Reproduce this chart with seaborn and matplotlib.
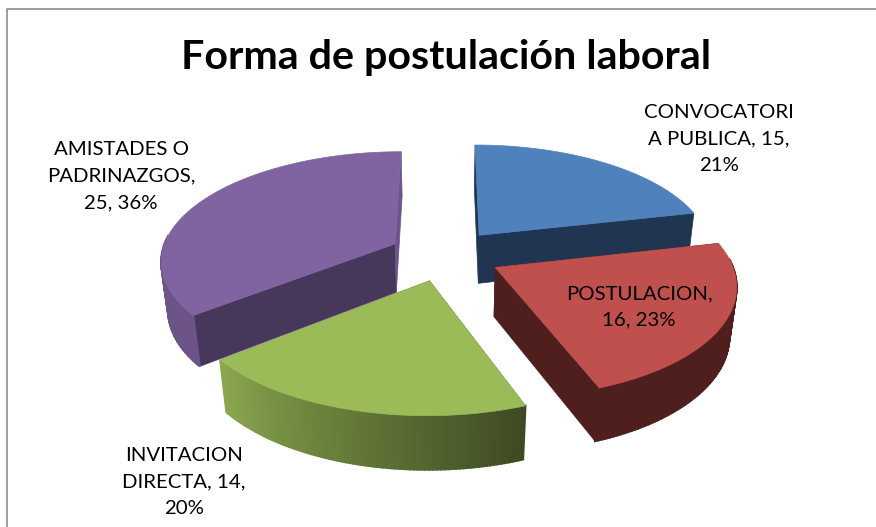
import numpy as np
import matplotlib
matplotlib.use('Agg')
import matplotlib.pyplot as plt
import seaborn as sns

titulo = 'Forma de postulación laboral'
categorias = ['CONVOCATORI\nA PUBLICA', 'POSTULACION', 'INVITACION\nDIRECTA', 'AMISTADES O\nPADRINAZGOS']
valores = [15, 16, 14, 25]
porcentajes = [21, 23, 20, 36]

color_top = ['#4f81bd', '#c0504d', '#9bbb59', '#8064a2']
color_lado = ['#1f3552', '#4f1f1e', '#4f5f2c', '#47375b']
color_fin = ['#1f3552', '#4f1f1e', '#4f5f2c', '#6c5489']
# degradado de la pared exterior, de angulo menor a mayor
pared_ini = ['#1f3552', '#4f1f1e', '#3e4a22', '#6c5489']
pared_fin = ['#1f3552', '#4f1f1e', '#8aa84f', '#6c5489']

# ubicacion de las etiquetas
pos_etiq = [(719, 139), (639, 307), (184, 482), (121, 176)]
orden = [0, 3, 2, 1]

# parametros de la camara
cx, cy = 445, 255
rx, ry = 234, 108
alto = 50
k, m = 0.14, 0.025
explode = 0.24


def proyecta(X, Y, Z=0.0):
    s = 1 / (1 + k * Y + m * Z)
    return cx + rx * X * s, cy + s * (-ry * Y + alto * Z)


sns.set_theme(style='white')
plt.rcParams['font.family'] = ['Lato', 'DejaVu Sans']

fig = plt.figure(figsize=(8.76, 5.27), dpi=100)
ax = fig.add_axes([0, 0, 1, 1])
ax.set_xlim(0, 876)
ax.set_ylim(527, 0)
ax.axis('off')

# marco del grafico, solo arriba y a la izquierda
ax.plot([6.5, 6.5, 876], [527, 8.5, 8.5], color='#8c8c8c', lw=1.2)

bordes = np.cumsum([0] + valores) / np.sum(valores) * 2 * np.pi


def cara(xs, ys, color, z=2, lw=0.5):
    ax.fill(xs, ys, facecolor=color, edgecolor=color, lw=lw, zorder=z)


for n, i in enumerate(orden):
    a0, a1 = bordes[i], bordes[i + 1]
    med = (a0 + a1) / 2
    ox, oy = explode * np.sin(med), explode * np.cos(med)
    t = np.linspace(a0, a1, 90)
    X, Y = ox + np.sin(t), oy + np.cos(t)
    z = 2 + n

    # caras planas
    for ang, col in ((a0, color_lado[i]), (a1, color_fin[i])):
        ex, ey = ox + np.sin(ang), oy + np.cos(ang)
        p = [proyecta(ox, oy), proyecta(ex, ey), proyecta(ex, ey, 1), proyecta(ox, oy, 1)]
        cara([q[0] for q in p], [q[1] for q in p], col, z)

    # pared exterior, por tiras
    grad = sns.blend_palette([pared_ini[i], pared_fin[i]], len(t))
    for j in range(len(t) - 1):
        if np.cos(t[j]) < 0.08:
            p = [proyecta(X[j], Y[j]), proyecta(X[j + 1], Y[j + 1]),
                 proyecta(X[j + 1], Y[j + 1], 1), proyecta(X[j], Y[j], 1)]
            cara([q[0] for q in p], [q[1] for q in p], grad[j], z, lw=1.5)

    # tapa
    px, py = proyecta(np.r_[ox, X], np.r_[oy, Y])
    cara(px, py, color_top[i], z)

for i in range(len(valores)):
    if i == 1:
        etiqueta = f'{categorias[i]},\n{valores[i]}, {porcentajes[i]}%'
    elif i == 3:
        etiqueta = f'{categorias[i]},\n{valores[i]}, {porcentajes[i]}%'
    else:
        etiqueta = f'{categorias[i]}, {valores[i]},\n{porcentajes[i]}%'
    ax.text(pos_etiq[i][0], pos_etiq[i][1], etiqueta, ha='center', va='center',
            fontsize=14.7, color='black', linespacing=1.68, zorder=10)

ax.text(446, 57, titulo, ha='center', va='center', fontsize=29.7, fontweight='bold', color='black', zorder=10)

fig.savefig('out.png', dpi=100)
